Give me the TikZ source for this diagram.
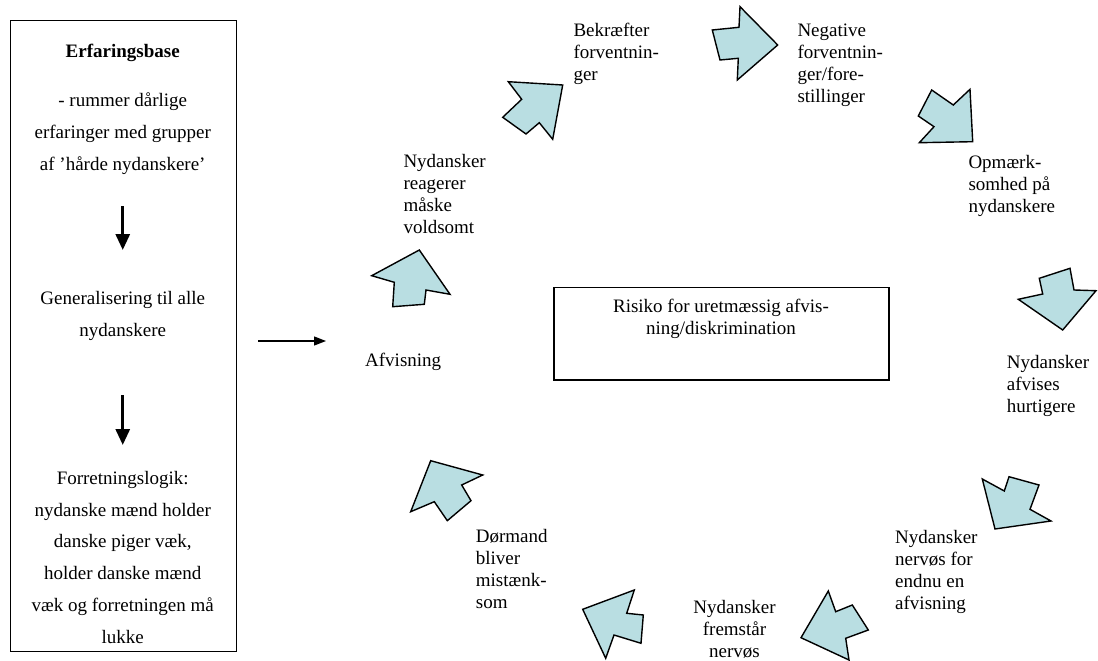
\documentclass[tikz,border=0pt]{standalone}
\usepackage{fontspec}
\setmainfont{Liberation Serif}
\usetikzlibrary{arrows.meta}
\definecolor{arrowfill}{RGB}{185,222,226}
\newcommand{\mylines}[2]{\begin{tabular}[t]{@{}#1@{}}#2\end{tabular}}
\begin{document}
\begin{tikzpicture}[x=1bp,y=-1bp,
  box/.style={draw=black, line width=1.4bp, inner sep=0pt, anchor=north west},
  blockarrow/.style={draw=black, fill=arrowfill, line width=1.4bp, line join=miter},
  lbl/.style={inner sep=0pt, anchor=base west, font=\fontsize{19bp}{22bp}\selectfont},
  clbl/.style={inner sep=0pt, anchor=base, font=\fontsize{19bp}{22bp}\selectfont},
  boxtext/.style={inner sep=0pt, anchor=base, font=\fontsize{19bp}{31.7bp}\selectfont},
  downarrow/.style={line width=3bp, -{Triangle[width=14bp,length=16bp]}},
  flow/.style={line width=1.3bp, -{Triangle[width=9bp,length=12bp]}}]
\useasboundingbox (0,0) rectangle (1098,661);

% left box
\node[box, minimum width=226.5bp, minimum height=631bp] (base) at (9.5,20) {};
\node[boxtext] (title) at (122.75,57.8) {\textbf{Erfaringsbase}};
\node[boxtext] (b1) at (122.75,107) {\mylines{c}{- rummer dårlige\\erfaringer med grupper\\af ’hårde nydanskere’}};
\node[boxtext] (b2) at (122.75,304.5) {\mylines{c}{Generalisering til alle\\nydanskere}};
\node[boxtext] (b3) at (122.75,484.5) {\mylines{c}{Forretningslogik:\\nydanske mænd holder\\danske piger væk,\\holder danske mænd\\væk og forretningen må\\lukke}};
\coordinate (d1s) at (122.75,206);
\coordinate (d1e) at (122.75,250);
\coordinate (d2s) at (122.75,395);
\coordinate (d2e) at (122.75,445);
\draw[downarrow] (d1s) -- (d1e);
\draw[downarrow] (d2s) -- (d2e);

% flow arrow
\coordinate (fs) at (258,341);
\coordinate (fe) at (326,341);
\draw[flow] (fs) -- (fe);

% center box
\node[box, minimum width=335bp, minimum height=92.6bp] (risk) at (553.3,286.7) {};
\node[clbl] (risktext) at (721,312) {\mylines{c}{Risiko for uretmæssig afvis-\\ning/diskrimination}};

% cycle labels
\node[lbl] (l1) at (573.3,37) {\mylines{l}{Bekræfter\\forventnin-\\ger}};
\node[lbl] (l2) at (797.3,36.7) {\mylines{l}{Negative\\forventnin-\\ger/fore-\\stillinger}};
\node[lbl] (l3) at (968.3,168.3) {\mylines{l}{Opmærk-\\somhed på\\nydanskere}};
\node[lbl] (l4) at (1006.7,368.3) {\mylines{l}{Nydansker\\afvises\\hurtigere}};
\node[lbl] (l5) at (895,543.3) {\mylines{l}{Nydansker\\nervøs for\\endnu en\\afvisning}};
\node[clbl] (l6) at (734.5,613.3) {\mylines{c}{Nydansker\\fremstår\\nervøs}};
\node[lbl] (l7) at (475.7,542.3) {\mylines{l}{Dørmand\\bliver\\mistænk-\\som}};
\node[lbl] (l8) at (365,366.7) {Afvisning};
\node[lbl] (l9) at (403.3,167.7) {\mylines{l}{Nydansker\\reagerer\\måske\\voldsomt}};

% block arrows
\draw[blockarrow] (419.3,250) -- (450,294.3) -- (426,290) -- (424.3,304.3) -- (392.7,306.7) -- (394.3,282.3) -- (371.7,275.7) -- cycle;
\draw[blockarrow] (508.3,81.7) -- (562.7,85) -- (552.7,139.3) -- (539.3,122.7) -- (526,134) -- (502.7,117.3) -- (521.7,99.3) -- cycle;
\draw[blockarrow] (740,6.7) -- (777.7,45) -- (737.3,80) -- (738.3,58.3) -- (720,60) -- (712.3,30) -- (739,27.3) -- cycle;
\draw[blockarrow] (970,89.3) -- (972.7,141.7) -- (919.3,142.7) -- (934,126.7) -- (918.3,116) -- (931.7,90) -- (953.3,105) -- cycle;
\draw[blockarrow] (1062.7,330) -- (1018.3,299.3) -- (1042.7,294) -- (1039.3,278.3) -- (1070,268.3) -- (1074,290) -- (1096,290.7) -- cycle;
\draw[blockarrow] (995,529) -- (982.3,479) -- (1004.3,491) -- (1009,476.7) -- (1039,485) -- (1030,509.3) -- (1051,521) -- cycle;
\draw[blockarrow] (801,637.7) -- (828.3,591) -- (835.7,611.7) -- (852.3,605) -- (868.3,630) -- (845.7,638.3) -- (849,660) -- cycle;
\draw[blockarrow] (582.7,609.3) -- (634.3,590) -- (626.7,613.3) -- (643.3,615) -- (641,643.3) -- (614,635) -- (605.7,658.3) -- cycle;
\draw[blockarrow] (430.7,460.7) -- (482.7,475) -- (461.7,485) -- (471,500.7) -- (447.3,520.7) -- (434.3,501.7) -- (410.7,511.7) -- cycle;
\end{tikzpicture}
\end{document}
